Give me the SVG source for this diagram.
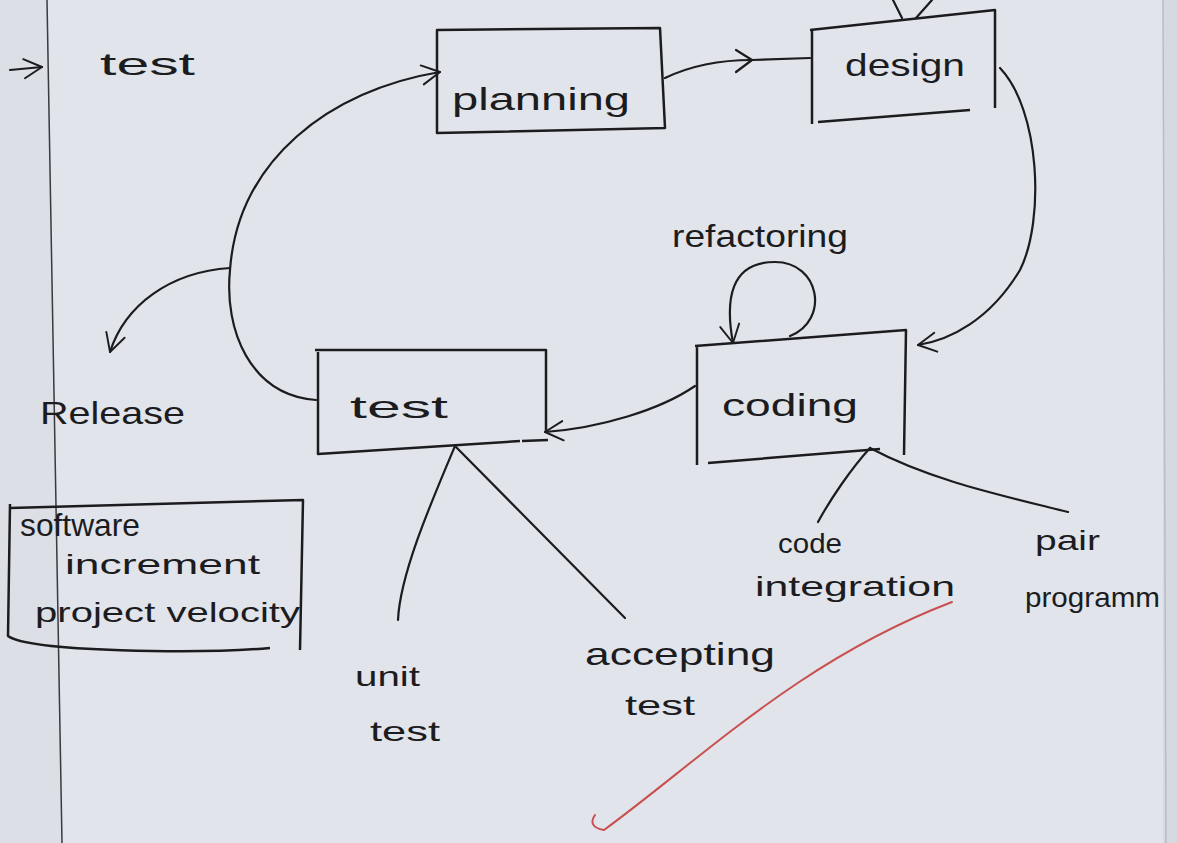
<svg xmlns="http://www.w3.org/2000/svg" width="1177" height="843" viewBox="0 0 1177 843">
<style>
.box{fill:none;stroke:#1c1c1e;stroke-width:2.5;stroke-linejoin:round}
.ln{fill:none;stroke:#1c1c1e;stroke-width:2.2;stroke-linecap:round;stroke-linejoin:round}
.t{font-family:"Liberation Sans",Arial,sans-serif;fill:#1c1c1e;font-size:32px}
.s{font-size:28px}
</style>
<defs>
<marker id="ah" viewBox="0 0 20 20" refX="18" refY="10" markerWidth="24" markerHeight="24" markerUnits="userSpaceOnUse" orient="auto">
<path d="M3,2 L18,10 L3,18" fill="none" stroke="#1c1c1e" stroke-width="1.6" stroke-linecap="round" stroke-linejoin="round"/>
</marker>
</defs>
<rect x="0" y="0" width="1177" height="843" fill="#e1e4eb"/>
<polygon points="0,0 47,0 62,843 0,843" fill="#dcdfe6"/>
<rect x="1163" y="0" width="14" height="843" fill="#d6d9e0"/>
<g id="page-lines">
<line x1="47" y1="0" x2="62" y2="843" stroke="#3a3a40" stroke-width="1.5"/>
<line x1="1163" y1="0" x2="1166" y2="843" stroke="#b8bcc4" stroke-width="1.5"/>
</g>
<g id="connectors">
<path class="ln" d="M10,70 L42,67" marker-end="url(#ah)"/>
<path class="ln" d="M665,78 C690,66 720,60 752,60"/>
<path class="ln" d="M736,50 L752,60 L736,72"/>
<path class="ln" d="M752,60 L810,58"/>
<path class="ln" d="M893,0 L902,18 M932,0 L916,18"/>
<path class="ln" d="M1000,68 C1040,110 1045,220 1020,270 C990,320 950,340 918,345" marker-end="url(#ah)"/>
<path class="ln" d="M790,336 C830,320 820,262 775,262 C730,262 725,300 733,343" marker-end="url(#ah)"/>
<path class="ln" d="M695,386 C660,410 600,428 545,432" marker-end="url(#ah)"/>
<path class="ln" d="M316,400 C250,395 224,330 230,270 C238,160 330,90 440,72" marker-end="url(#ah)"/>
<path class="ln" d="M230,268 C170,272 125,305 110,352" marker-end="url(#ah)"/>
<path class="ln" d="M455,446 C430,505 400,575 398,620"/>
<path class="ln" d="M455,446 L625,618"/>
<path class="ln" d="M870,448 C850,470 830,500 818,522"/>
<path class="ln" d="M870,448 C930,480 1000,495 1068,512"/>
<path d="M595,815 C590,822 592,828 604,830 C700,760 800,660 952,602" fill="none" stroke="#c8504e" stroke-width="2" stroke-linecap="round"/>
</g>
<g id="test-label"><text class="t" x="100" y="75" textLength="95" lengthAdjust="spacingAndGlyphs">test</text></g>
<g id="planning">
<path class="box" d="M437,30 L660,28 L665,128 L437,133 Z"/>
<text class="t" x="452" y="110" textLength="178" lengthAdjust="spacingAndGlyphs">planning</text>
</g>
<g id="design">
<path class="box" d="M810,30 L995,10 L995,108 M818,122 L970,110 M812,30 L812,124"/>
<text class="t" x="845" y="76" font-size="30" textLength="120" lengthAdjust="spacingAndGlyphs">design</text>
</g>
<g id="refactoring"><text class="t" x="672" y="247" font-size="30" textLength="176" lengthAdjust="spacingAndGlyphs">refactoring</text></g>
<g id="coding">
<path class="box" d="M695,346 L906,330 L904,455 M708,463 L880,449 M697,346 L697,465"/>
<text class="t" x="722" y="416" textLength="136" lengthAdjust="spacingAndGlyphs">coding</text>
</g>
<g id="test">
<path class="box" d="M315,350 L546,350 L546,432 M548,440 L522,441 M318,352 L318,454 L520,441"/>
<text class="t" x="350" y="418" textLength="98" lengthAdjust="spacingAndGlyphs">test</text>
</g>
<g id="release"><text class="t" x="40" y="424" textLength="145" lengthAdjust="spacingAndGlyphs">Release</text></g>
<g id="software-increment">
<path class="box" d="M10,508 L303,500 L300,650 M10,504 L8,636 C30,652 200,654 270,648"/>
<text class="t" x="20" y="536" font-size="26" textLength="120" lengthAdjust="spacingAndGlyphs">software</text>
<text class="t s" x="65" y="574" textLength="195" lengthAdjust="spacingAndGlyphs">increment</text>
<text class="t s" x="35" y="622" textLength="265" lengthAdjust="spacingAndGlyphs">project velocity</text>
</g>
<g id="unit-test">
<text class="t s" x="355" y="686" textLength="65" lengthAdjust="spacingAndGlyphs">unit</text>
<text class="t s" x="370" y="741" textLength="70" lengthAdjust="spacingAndGlyphs">test</text>
</g>
<g id="accepting-test">
<text class="t" x="585" y="665" font-size="30" textLength="190" lengthAdjust="spacingAndGlyphs">accepting</text>
<text class="t s" x="625" y="715" textLength="70" lengthAdjust="spacingAndGlyphs">test</text>
</g>
<g id="code-integration">
<text class="t s" x="778" y="553" textLength="64" lengthAdjust="spacingAndGlyphs">code</text>
<text class="t s" x="755" y="596" textLength="200" lengthAdjust="spacingAndGlyphs">integration</text>
</g>
<g id="pair-programming">
<text class="t s" x="1035" y="550" textLength="65" lengthAdjust="spacingAndGlyphs">pair</text>
<text class="t s" x="1025" y="607" textLength="135" lengthAdjust="spacingAndGlyphs">programm</text>
</g>
</svg>
